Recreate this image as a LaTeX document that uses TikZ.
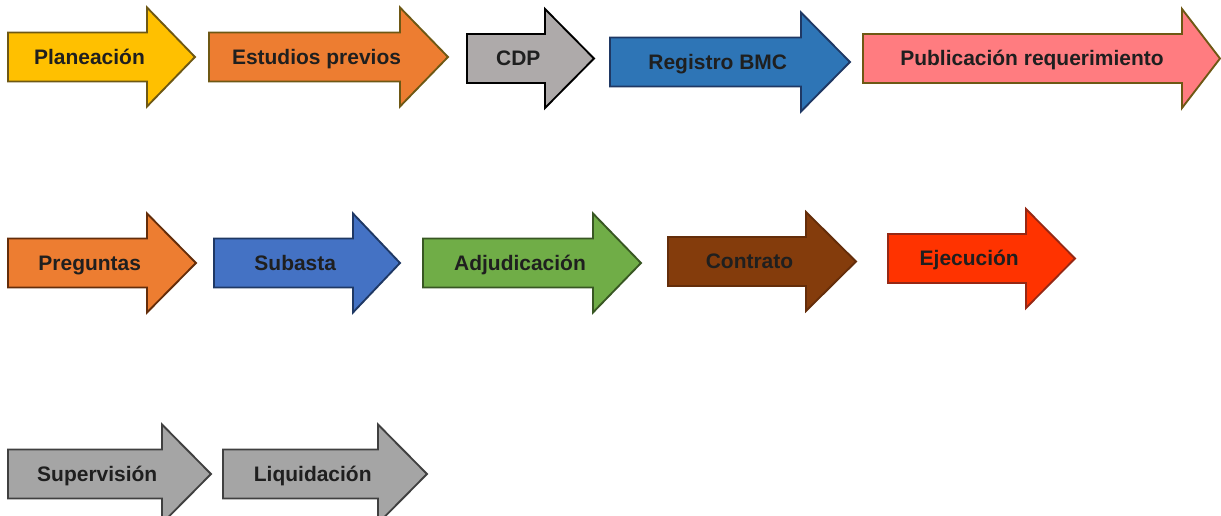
\documentclass[tikz,border=0pt]{standalone}
\usepackage{fontspec}
\setmainfont{Liberation Sans}
\usepackage{tikz}
\usetikzlibrary{calc}
\definecolor{amarillo}{RGB}{255,192,0}
\definecolor{naranja}{RGB}{237,125,49}
\definecolor{grisCDP}{RGB}{174,170,170}
\definecolor{azulBMC}{RGB}{46,117,182}
\definecolor{rosado}{RGB}{255,124,128}
\definecolor{azulSub}{RGB}{68,114,196}
\definecolor{verde}{RGB}{112,173,71}
\definecolor{cafe}{RGB}{132,60,12}
\definecolor{rojo}{RGB}{255,51,0}
\definecolor{gris}{RGB}{165,165,165}
\definecolor{bordeOliva}{RGB}{110,88,20}
\definecolor{bordeNavy}{RGB}{31,56,100}
\definecolor{bordeCafe}{RGB}{100,45,10}
\definecolor{bordeVerde}{RGB}{56,87,35}
\definecolor{bordeRojo}{RGB}{150,40,20}
\definecolor{bordeGris}{RGB}{64,64,64}
\tikzset{
  flecha/.style={line width=1.6pt,line join=miter},
  etiqueta/.style={font=\fontsize{17.9}{20}\selectfont\bfseries,text=black!88,
                   anchor=base,inner sep=0pt},
}
% #1 nombre, #2 izquierda, #3 centro y, #4 inicio punta, #5 punta, #6 relleno, #7 borde, #8 texto
\newcommand{\flecha}[8]{%
  \draw[flecha,fill=#6,draw=#7] (#2,#3-24.5) -- (#4,#3-24.5) -- (#4,#3-49.5) -- (#5,#3)
    -- (#4,#3+49.5) -- (#4,#3+24.5) -- (#2,#3+24.5) -- cycle;
  \node[etiqueta] (#1) at ({(#2+(#4+#5)/2)/2},#3+7.4) {#8};
}
\begin{document}
\begin{tikzpicture}[x=0.03cm,y=-0.03cm]
  \useasboundingbox (0,0) rectangle (1221,516);
  \clip (0,0) rectangle (1221,516);
  % primera fila
  \flecha{planeacion}{8}{57}{147}{195}{amarillo}{bordeOliva}{Planeación}
  \flecha{estudios}{209}{57}{400}{448}{naranja}{bordeOliva}{Estudios previos}
  \flecha{cdp}{467}{58.5}{545}{594}{grisCDP}{black}{CDP}
  \flecha{registro}{610}{62}{801}{850}{azulBMC}{bordeNavy}{Registro BMC}
  \flecha{publicacion}{863}{58.5}{1182}{1220}{rosado}{bordeOliva}{Publicación requerimiento}
  % segunda fila
  \flecha{preguntas}{8}{263}{147}{196}{naranja}{bordeCafe}{Preguntas}
  \flecha{subasta}{214}{263}{353}{400}{azulSub}{bordeNavy}{Subasta}
  \flecha{adjudicacion}{423}{263}{593}{641}{verde}{bordeVerde}{Adjudicación}
  \flecha{contrato}{668}{261.5}{806}{856}{cafe}{bordeCafe}{Contrato}
  \flecha{ejecucion}{888}{258.5}{1026}{1075}{rojo}{bordeRojo}{Ejecución}
  % tercera fila
  \flecha{supervision}{8}{474}{162}{211}{gris}{bordeGris}{Supervisión}
  \flecha{liquidacion}{223}{474}{378}{427}{gris}{bordeGris}{Liquidación}
\end{tikzpicture}
\end{document}
